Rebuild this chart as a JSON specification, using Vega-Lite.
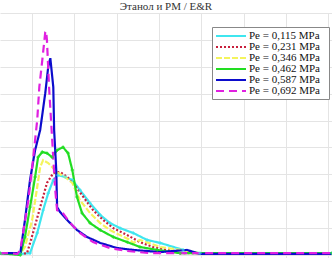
{
  "$schema": "https://vega.github.io/schema/vega-lite/v6.json",
  "width": 332,
  "height": 245,
  "autosize": {"type": "none"},
  "padding": {"left": 0, "right": 0, "top": 13, "bottom": 0},
  "background": "white",
  "title": {"text": "Этанол и РМ / E&R", "font": "Liberation Serif", "fontSize": 11, "fontWeight": "normal", "color": "#333333", "anchor": "middle", "offset": 1, "frame": "group"},
  "config": {"view": {"stroke": null}},
  "data": {"values": [
    {"s": "Pe = 0,115 MPa", "x": 0.24, "y": 0.07}, {"s": "Pe = 0,115 MPa", "x": 0.72, "y": 0.04}, {"s": "Pe = 0,115 MPa", "x": 0.95, "y": 0.07}, {"s": "Pe = 0,115 MPa", "x": 1.12, "y": 0.82}, {"s": "Pe = 0,115 MPa", "x": 1.26, "y": 1.67}, {"s": "Pe = 0,115 MPa", "x": 1.38, "y": 2.30}, {"s": "Pe = 0,115 MPa", "x": 1.50, "y": 2.79}, {"s": "Pe = 0,115 MPa", "x": 1.61, "y": 2.97}, {"s": "Pe = 0,115 MPa", "x": 1.78, "y": 2.90}, {"s": "Pe = 0,115 MPa", "x": 1.95, "y": 2.79}, {"s": "Pe = 0,115 MPa", "x": 2.13, "y": 2.42}, {"s": "Pe = 0,115 MPa", "x": 2.37, "y": 1.93}, {"s": "Pe = 0,115 MPa", "x": 2.61, "y": 1.49}, {"s": "Pe = 0,115 MPa", "x": 2.84, "y": 1.19}, {"s": "Pe = 0,115 MPa", "x": 3.08, "y": 1.00}, {"s": "Pe = 0,115 MPa", "x": 3.39, "y": 0.82}, {"s": "Pe = 0,115 MPa", "x": 3.72, "y": 0.56}, {"s": "Pe = 0,115 MPa", "x": 4.03, "y": 0.45}, {"s": "Pe = 0,115 MPa", "x": 4.57, "y": 0.19}, {"s": "Pe = 0,115 MPa", "x": 4.97, "y": 0.07}, {"s": "Pe = 0,115 MPa", "x": 8.09, "y": 0.07},
    {"s": "Pe =  0,231  MPa", "x": 0.24, "y": 0.07}, {"s": "Pe =  0,231  MPa", "x": 0.72, "y": 0.04}, {"s": "Pe =  0,231  MPa", "x": 0.88, "y": 0.07}, {"s": "Pe =  0,231  MPa", "x": 1.02, "y": 0.82}, {"s": "Pe =  0,231  MPa", "x": 1.19, "y": 1.78}, {"s": "Pe =  0,231  MPa", "x": 1.35, "y": 2.68}, {"s": "Pe =  0,231  MPa", "x": 1.50, "y": 3.05}, {"s": "Pe =  0,231  MPa", "x": 1.66, "y": 3.09}, {"s": "Pe =  0,231  MPa", "x": 1.83, "y": 2.90}, {"s": "Pe =  0,231  MPa", "x": 1.97, "y": 2.68}, {"s": "Pe =  0,231  MPa", "x": 2.21, "y": 2.16}, {"s": "Pe =  0,231  MPa", "x": 2.44, "y": 1.67}, {"s": "Pe =  0,231  MPa", "x": 2.68, "y": 1.30}, {"s": "Pe =  0,231  MPa", "x": 2.92, "y": 1.00}, {"s": "Pe =  0,231  MPa", "x": 3.25, "y": 0.74}, {"s": "Pe =  0,231  MPa", "x": 3.55, "y": 0.48}, {"s": "Pe =  0,231  MPa", "x": 3.86, "y": 0.30}, {"s": "Pe =  0,231  MPa", "x": 4.19, "y": 0.19}, {"s": "Pe =  0,231  MPa", "x": 4.50, "y": 0.07}, {"s": "Pe =  0,231  MPa", "x": 8.09, "y": 0.07},
    {"s": "Pe =  0,346  MPa", "x": 0.24, "y": 0.07}, {"s": "Pe =  0,346  MPa", "x": 0.72, "y": 0.04}, {"s": "Pe =  0,346  MPa", "x": 0.83, "y": 0.30}, {"s": "Pe =  0,346  MPa", "x": 1.00, "y": 1.30}, {"s": "Pe =  0,346  MPa", "x": 1.12, "y": 2.53}, {"s": "Pe =  0,346  MPa", "x": 1.19, "y": 3.27}, {"s": "Pe =  0,346  MPa", "x": 1.26, "y": 3.53}, {"s": "Pe =  0,346  MPa", "x": 1.38, "y": 3.42}, {"s": "Pe =  0,346  MPa", "x": 1.50, "y": 3.23}, {"s": "Pe =  0,346  MPa", "x": 1.61, "y": 3.05}, {"s": "Pe =  0,346  MPa", "x": 1.78, "y": 2.90}, {"s": "Pe =  0,346  MPa", "x": 1.95, "y": 2.68}, {"s": "Pe =  0,346  MPa", "x": 2.13, "y": 2.04}, {"s": "Pe =  0,346  MPa", "x": 2.37, "y": 1.56}, {"s": "Pe =  0,346  MPa", "x": 2.61, "y": 1.19}, {"s": "Pe =  0,346  MPa", "x": 2.84, "y": 0.93}, {"s": "Pe =  0,346  MPa", "x": 3.08, "y": 0.74}, {"s": "Pe =  0,346  MPa", "x": 3.32, "y": 0.56}, {"s": "Pe =  0,346  MPa", "x": 3.39, "y": 0.45}, {"s": "Pe =  0,346  MPa", "x": 3.55, "y": 0.56}, {"s": "Pe =  0,346  MPa", "x": 4.03, "y": 0.30}, {"s": "Pe =  0,346  MPa", "x": 4.50, "y": 0.19}, {"s": "Pe =  0,346  MPa", "x": 4.97, "y": 0.07}, {"s": "Pe =  0,346  MPa", "x": 8.09, "y": 0.07},
    {"s": "Pe =  0,462  MPa", "x": 0.24, "y": 0.07}, {"s": "Pe =  0,462  MPa", "x": 0.72, "y": 0.00}, {"s": "Pe =  0,462  MPa", "x": 0.83, "y": 0.67}, {"s": "Pe =  0,462  MPa", "x": 0.95, "y": 1.78}, {"s": "Pe =  0,462  MPa", "x": 1.07, "y": 2.90}, {"s": "Pe =  0,462  MPa", "x": 1.14, "y": 3.64}, {"s": "Pe =  0,462  MPa", "x": 1.24, "y": 3.83}, {"s": "Pe =  0,462  MPa", "x": 1.35, "y": 3.79}, {"s": "Pe =  0,462  MPa", "x": 1.47, "y": 3.64}, {"s": "Pe =  0,462  MPa", "x": 1.59, "y": 3.90}, {"s": "Pe =  0,462  MPa", "x": 1.73, "y": 4.01}, {"s": "Pe =  0,462  MPa", "x": 1.85, "y": 3.79}, {"s": "Pe =  0,462  MPa", "x": 1.95, "y": 3.16}, {"s": "Pe =  0,462  MPa", "x": 2.06, "y": 2.16}, {"s": "Pe =  0,462  MPa", "x": 2.18, "y": 1.56}, {"s": "Pe =  0,462  MPa", "x": 2.37, "y": 1.19}, {"s": "Pe =  0,462  MPa", "x": 2.61, "y": 0.93}, {"s": "Pe =  0,462  MPa", "x": 2.92, "y": 0.67}, {"s": "Pe =  0,462  MPa", "x": 3.25, "y": 0.48}, {"s": "Pe =  0,462  MPa", "x": 3.55, "y": 0.30}, {"s": "Pe =  0,462  MPa", "x": 3.96, "y": 0.19}, {"s": "Pe =  0,462  MPa", "x": 4.50, "y": 0.07}, {"s": "Pe =  0,462  MPa", "x": 8.09, "y": 0.07},
    {"s": "Pe = 0,587 MPa", "x": 0.24, "y": 0.07}, {"s": "Pe = 0,587 MPa", "x": 0.60, "y": 0.07}, {"s": "Pe = 0,587 MPa", "x": 0.72, "y": 0.07}, {"s": "Pe = 0,587 MPa", "x": 0.83, "y": 1.30}, {"s": "Pe = 0,587 MPa", "x": 0.95, "y": 2.79}, {"s": "Pe = 0,587 MPa", "x": 1.07, "y": 3.90}, {"s": "Pe = 0,587 MPa", "x": 1.19, "y": 4.65}, {"s": "Pe = 0,587 MPa", "x": 1.31, "y": 6.02}, {"s": "Pe = 0,587 MPa", "x": 1.38, "y": 6.99}, {"s": "Pe = 0,587 MPa", "x": 1.43, "y": 7.32}, {"s": "Pe = 0,587 MPa", "x": 1.50, "y": 6.25}, {"s": "Pe = 0,587 MPa", "x": 1.52, "y": 4.65}, {"s": "Pe = 0,587 MPa", "x": 1.57, "y": 3.16}, {"s": "Pe = 0,587 MPa", "x": 1.59, "y": 1.78}, {"s": "Pe = 0,587 MPa", "x": 1.66, "y": 1.60}, {"s": "Pe = 0,587 MPa", "x": 1.83, "y": 1.30}, {"s": "Pe = 0,587 MPa", "x": 2.06, "y": 0.93}, {"s": "Pe = 0,587 MPa", "x": 2.30, "y": 0.67}, {"s": "Pe = 0,587 MPa", "x": 2.61, "y": 0.45}, {"s": "Pe = 0,587 MPa", "x": 3.01, "y": 0.26}, {"s": "Pe = 0,587 MPa", "x": 3.39, "y": 0.19}, {"s": "Pe = 0,587 MPa", "x": 4.03, "y": 0.11}, {"s": "Pe = 0,587 MPa", "x": 4.66, "y": 0.19}, {"s": "Pe = 0,587 MPa", "x": 4.97, "y": 0.04}, {"s": "Pe = 0,587 MPa", "x": 8.09, "y": 0.04},
    {"s": "Pe = 0,692 MPa", "x": 0.24, "y": 0.07}, {"s": "Pe = 0,692 MPa", "x": 0.48, "y": 0.07}, {"s": "Pe = 0,692 MPa", "x": 0.65, "y": 0.04}, {"s": "Pe = 0,692 MPa", "x": 0.72, "y": 0.19}, {"s": "Pe = 0,692 MPa", "x": 0.91, "y": 2.04}, {"s": "Pe = 0,692 MPa", "x": 1.02, "y": 3.53}, {"s": "Pe = 0,692 MPa", "x": 1.12, "y": 5.02}, {"s": "Pe = 0,692 MPa", "x": 1.17, "y": 6.25}, {"s": "Pe = 0,692 MPa", "x": 1.24, "y": 7.25}, {"s": "Pe = 0,692 MPa", "x": 1.31, "y": 8.29}, {"s": "Pe = 0,692 MPa", "x": 1.33, "y": 8.33}, {"s": "Pe = 0,692 MPa", "x": 1.35, "y": 7.99}, {"s": "Pe = 0,692 MPa", "x": 1.40, "y": 6.25}, {"s": "Pe = 0,692 MPa", "x": 1.47, "y": 4.39}, {"s": "Pe = 0,692 MPa", "x": 1.54, "y": 2.53}, {"s": "Pe = 0,692 MPa", "x": 1.59, "y": 1.67}, {"s": "Pe = 0,692 MPa", "x": 1.71, "y": 1.60}, {"s": "Pe = 0,692 MPa", "x": 1.90, "y": 1.19}, {"s": "Pe = 0,692 MPa", "x": 2.13, "y": 0.82}, {"s": "Pe = 0,692 MPa", "x": 2.44, "y": 0.48}, {"s": "Pe = 0,692 MPa", "x": 2.84, "y": 0.26}, {"s": "Pe = 0,692 MPa", "x": 3.25, "y": 0.15}, {"s": "Pe = 0,692 MPa", "x": 3.79, "y": 0.07}, {"s": "Pe = 0,692 MPa", "x": 8.09, "y": 0.07}
  ]},
  "encoding": {
    "x": {"field": "x", "type": "quantitative", "scale": {"domain": [0.24, 8.09], "nice": false, "zero": false},
      "axis": {"values": [1, 2, 3, 4, 5, 6, 7, 8], "labels": false, "ticks": false, "domain": false, "title": null, "grid": true, "gridColor": "#e4e4e4"}},
    "y": {"field": "y", "type": "quantitative", "scale": {"domain": [-0.11, 9], "nice": false, "zero": false},
      "axis": {"values": [0, 1, 2, 3, 4, 5, 6, 7, 8, 9], "labels": false, "ticks": false, "domain": false, "title": null, "grid": true, "gridColor": "#e4e4e4"}}
  },
  "layer": [
    {
      "mark": {"type": "line", "strokeWidth": 2.2, "clip": true},
      "encoding": {
        "color": {"field": "s", "type": "nominal",
          "scale": {"domain": ["Pe = 0,115 MPa", "Pe =  0,231  MPa", "Pe =  0,346  MPa", "Pe =  0,462  MPa", "Pe = 0,587 MPa", "Pe = 0,692 MPa"],
                    "range": ["#3fe6ef", "#c8203c", "#f4f45c", "#22dd22", "#0c0ccc", "#e020e0"]},
          "legend": {"orient": "none", "legendX": 212, "legendY": 14, "title": null, "symbolType": "M-3,0H3", "symbolSize": 100, "symbolStrokeWidth": 2,
            "labelFont": "Liberation Serif", "labelFontSize": 11, "labelColor": "#111111", "labelLimit": 200, "labelOffset": 12,
            "strokeColor": "#888888", "fillColor": "white", "padding": 3, "rowPadding": 0, "symbolOffset": 10}},
        "strokeDash": {"field": "s", "type": "nominal",
          "scale": {"domain": ["Pe = 0,115 MPa", "Pe =  0,231  MPa", "Pe =  0,346  MPa", "Pe =  0,462  MPa", "Pe = 0,587 MPa", "Pe = 0,692 MPa"],
                    "range": [[1, 0], [2, 2], [6, 2], [1, 0], [1, 0], [8, 5]]}},
        "order": {"field": "x", "type": "quantitative"}
      }
    },
    {
      "transform": [{"filter": "datum.s == 'Pe = 0,115 MPa'"}],
      "mark": {"type": "point", "shape": "cross", "size": 12, "filled": true, "color": "#3fe6ef"}
    },
    {
      "transform": [{"filter": "datum.s == 'Pe =  0,462  MPa'"}],
      "mark": {"type": "point", "shape": "cross", "size": 12, "filled": true, "color": "#22dd22"}
    }
  ]
}
